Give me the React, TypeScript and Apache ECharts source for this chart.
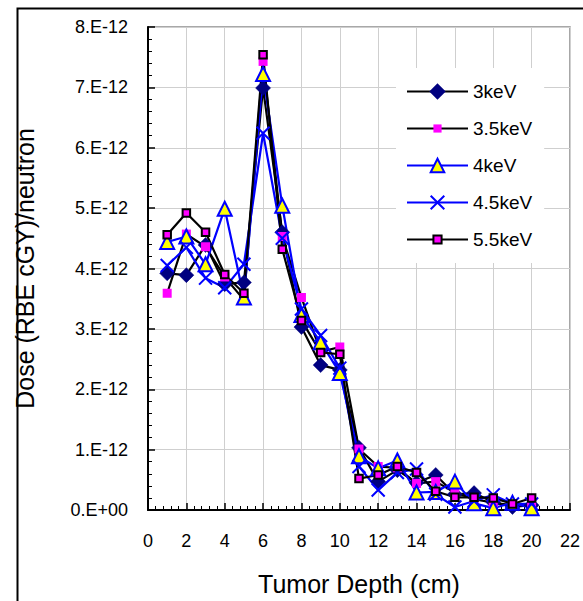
import React, { useEffect, useRef } from "react";
import * as echarts from "echarts";

// Depth (cm)
const depths = [1, 2, 3, 4, 5, 6, 7, 8, 9, 10, 11, 12, 13, 14, 15, 16, 17, 18, 19, 20];
// Dose values in units of 1E-12 (RBE cGY)/neutron
const dose3keV = [3.92, 3.89, 4.39, 3.74, 3.77, 6.99, 4.6, 3.03, 2.4, 2.32, 1.03, 0.47, 0.66, 0.45, 0.58, 0.26, 0.28, 0.13, 0.05, 0.08];
const dose35keV = [3.59, 4.57, 4.36, 3.86, 3.48, 7.43, 4.53, 3.52, 2.62, 2.7, 1.01, 0.72, 0.7, 0.44, 0.47, 0.29, 0.18, 0.12, 0.08, 0.1];
const dose4keV = [4.44, 4.53, 4.07, 4.99, 3.52, 7.22, 5.04, 3.23, 2.78, 2.27, 0.89, 0.69, 0.82, 0.29, 0.3, 0.47, 0.11, 0.03, 0.12, 0.03];
const dose45keV = [4.05, 4.35, 3.84, 3.68, 4.07, 6.24, 4.5, 3.33, 2.89, 2.35, 0.72, 0.33, 0.62, 0.68, 0.26, 0.05, 0.15, 0.25, 0.1, 0.1];
const dose55keV = [4.56, 4.92, 4.6, 3.9, 3.59, 7.54, 4.32, 3.14, 2.61, 2.58, 0.52, 0.58, 0.72, 0.62, 0.31, 0.21, 0.21, 0.2, 0.1, 0.2];
const seriesNames = ["3keV", "3.5keV", "4keV", "4.5keV", "5.5keV"];

const FONT = "'Liberation Sans', Arial, sans-serif";
const SQUARE = "path://M0 0M20 20M4 4L16 4L16 16L4 16Z";
const CROSS = "path://M0 0L10 10M10 0L0 10";

function pairs(vals: number[]) {
  return depths.map((d, i) => [d, vals[i]]);
}

export default function App() {
  const ref = useRef<HTMLDivElement>(null);
  useEffect(() => {
    if (!ref.current) return;
    const chart = echarts.init(ref.current, null, { renderer: "svg" });
    const base = {
      type: "line",
      silent: true,
      emphasis: { disabled: true },
      showAllSymbol: true,
    };
    chart.setOption({
      animation: false,
      backgroundColor: "#fff",
      graphic: [
        {
          type: "rect",
          left: 15,
          top: 6,
          shape: { x: 0, y: 0, width: 700, height: 700 },
          style: { fill: "none", stroke: "#000", lineWidth: 2 },
          z: 0,
        },
      ],
      grid: {
        left: 148,
        top: 27,
        right: 12,
        bottom: 84,
        show: true,
        borderColor: "#8c8c8c",
        borderWidth: 1.5,
        backgroundColor: "transparent",
      },
      legend: {
        orient: "vertical",
        left: 396,
        top: 68,
        padding: [14, 12, 14, 10],
        itemWidth: 61,
        itemHeight: 17,
        itemGap: 18,
        backgroundColor: "#fff",
        textStyle: { fontFamily: FONT, fontSize: 19, color: "#000" },
        data: seriesNames,
      },
      xAxis: {
        type: "value",
        min: 0,
        max: 22,
        interval: 2,
        name: "Tumor Depth (cm)",
        nameLocation: "middle",
        nameGap: 61,
        nameTextStyle: { fontFamily: FONT, fontSize: 25, color: "#000" },
        axisLine: { show: true, onZero: false, lineStyle: { color: "#000", width: 2 } },
        axisTick: { show: true, inside: true, length: 7, lineStyle: { color: "#000", width: 1.5 } },
        minorTick: { show: true, splitNumber: 5, length: 4, lineStyle: { color: "#000", width: 1 } },
        splitLine: { show: true, lineStyle: { color: "#cfcfcf", width: 1 } },
        axisLabel: { fontFamily: FONT, fontSize: 18, color: "#000", margin: 22 },
      },
      yAxis: {
        type: "value",
        min: 0,
        max: 8,
        interval: 1,
        name: "Dose (RBE cGY)/neutron",
        nameLocation: "middle",
        nameGap: 111,
        nameTextStyle: { fontFamily: FONT, fontSize: 25, color: "#000" },
        axisLine: { show: true, onZero: false, lineStyle: { color: "#000", width: 2 } },
        axisTick: { show: true, inside: true, length: 7, lineStyle: { color: "#000", width: 1.5 } },
        minorTick: { show: true, splitNumber: 5, length: 4, lineStyle: { color: "#000", width: 1 } },
        splitLine: { show: true, lineStyle: { color: "#cfcfcf", width: 1 } },
        axisLabel: {
          fontFamily: FONT,
          fontSize: 18,
          color: "#000",
          margin: 20,
          formatter: (v: number) => (v === 0 ? "0.E+00" : `${v}.E-12`),
        },
      },
      series: [
        {
          ...base,
          name: "3keV",
          data: pairs(dose3keV),
          symbol: "diamond",
          symbolSize: 15,
          lineStyle: { color: "#000", width: 2.2 },
          itemStyle: { color: "#000080", borderColor: "#000080", borderWidth: 0.5 },
        },
        {
          ...base,
          name: "3.5keV",
          data: pairs(dose35keV),
          symbol: SQUARE,
          symbolSize: 15,
          lineStyle: { color: "#000", width: 2.2 },
          itemStyle: { color: "#ff00ff", borderWidth: 0 },
        },
        {
          ...base,
          name: "4keV",
          data: pairs(dose4keV),
          symbol: "triangle",
          symbolSize: 14,
          lineStyle: { color: "#0000ff", width: 2.2 },
          itemStyle: { color: "#ffff00", borderColor: "#0000ff", borderWidth: 2 },
        },
        {
          ...base,
          name: "4.5keV",
          data: pairs(dose45keV),
          symbol: CROSS,
          symbolSize: 13,
          lineStyle: { color: "#0000ff", width: 2.2 },
          itemStyle: { color: "#0000ff", borderColor: "#0000ff", borderWidth: 2 },
        },
        {
          ...base,
          name: "5.5keV",
          data: pairs(dose55keV),
          symbol: SQUARE,
          symbolSize: 12.5,
          lineStyle: { color: "#000", width: 2.2 },
          itemStyle: { color: "#ff00ff", borderColor: "#000", borderWidth: 2 },
        },
      ],
    });
    return () => chart.dispose();
  }, []);
  return (
    <div
      ref={ref}
      style={{ position: "fixed", left: 0, top: 0, width: 583, height: 601 }}
    />
  );
}
